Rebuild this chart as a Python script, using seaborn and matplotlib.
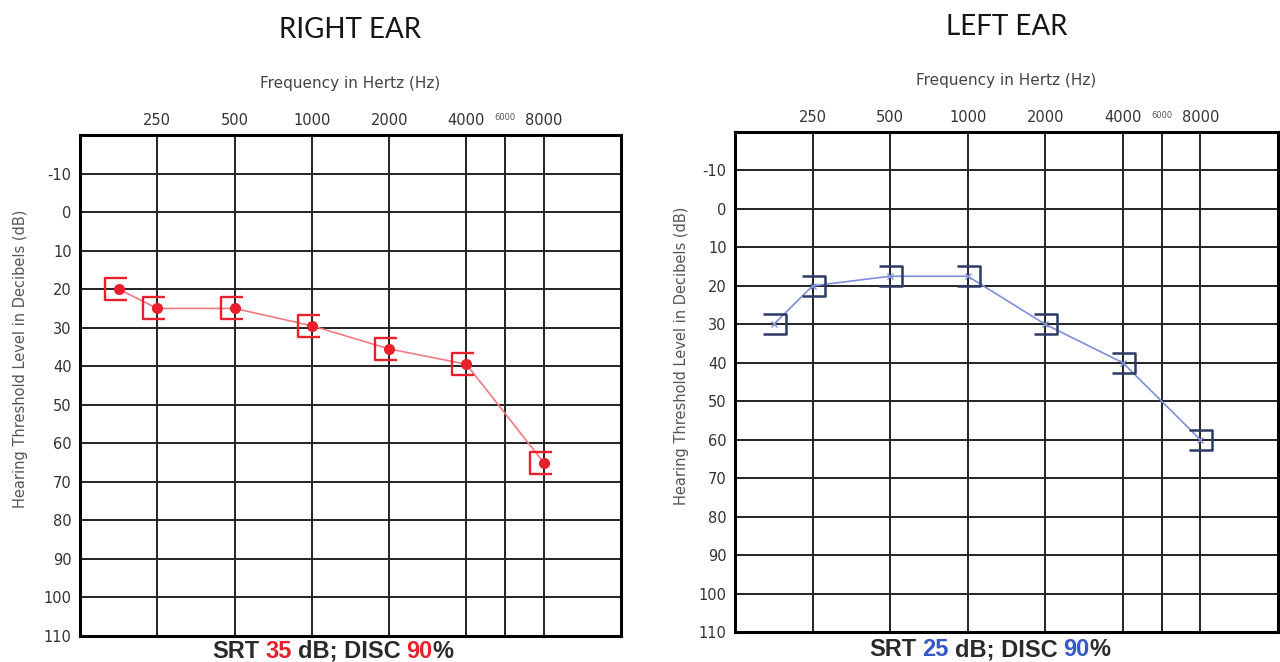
import numpy as np
import pandas as pd
import matplotlib
matplotlib.use("Agg")
import matplotlib.pyplot as plt
from matplotlib.path import Path
from matplotlib.transforms import ScaledTranslation
import seaborn as sns

sns.set_style("white")
plt.rcParams['font.family'] = ['DejaVu Sans']
plt.rcParams['axes.unicode_minus'] = False

# audiogram columns (octave index, 125 Hz = 0)
x_pos = [0.5, 1, 2, 3, 4, 5, 6]
right_db = [20, 25, 25, 29.5, 35.5, 39.5, 65]
left_db = [30, 20, 17.5, 17.5, 30, 40, 60]

freq_ticks = [1, 2, 3, 4, 5, 5.5, 6]
freq_labels = ["250", "500", "1000", "2000", "4000", "6000", "8000"]
db_ticks = list(range(-10, 111, 10))

right_srt, right_disc = "35", "90"
left_srt, left_disc = "25", "90"

RED = "#e8202c"
RED_LINE = "#f27a80"
BLUE_TXT = "#3457c8"
BLUE_LINE = "#7d8fd8"
NAVY = "#2c3b66"
GRID = "#232323"

# bracket markers: "[" for right ear, "]" for left ear
bracket_r = Path([(0.57, 0.79), (-1, 0.79), (-1, -0.79), (0.57, -0.79)],
                 [Path.MOVETO, Path.LINETO, Path.LINETO, Path.LINETO])
bracket_l = Path([(-0.92, 0.83), (1, 0.83), (1, -0.83), (-0.92, -0.83)],
                 [Path.MOVETO, Path.LINETO, Path.LINETO, Path.LINETO])

fig = plt.figure(figsize=(12.8, 6.62), dpi=100)
W, H = 1280, 662


def px_axes(l, t, r, b):
    return fig.add_axes([l / W, 1 - b / H, (r - l) / W, (b - t) / H])


def style_audiogram(ax, title, ylab_x):
    ax.set_xlim(0, 7)
    ax.set_ylim(110, -20)
    ax.set_yticks(db_ticks)
    ax.set_xticks(freq_ticks)
    ax.set_xticklabels(freq_labels)
    ax.xaxis.tick_top()
    ax.xaxis.set_label_position('top')
    ax.tick_params(axis='both', length=0, colors='#333333', labelsize=10.5)
    ax.tick_params(axis='x', pad=5)
    ax.tick_params(axis='y', pad=6)
    for t in ax.xaxis.get_major_ticks():
        if t.label2.get_text() == "6000":
            t.label2.set_fontsize(6)
            t.label2.set_color('#555555')
            t.label2.set_transform(t.label2.get_transform()
                                   + ScaledTranslation(0, 4 / 72, fig.dpi_scale_trans))
    ax.grid(True, color=GRID, lw=1.4)
    ax.set_axisbelow(True)
    for s in ax.spines.values():
        s.set_color('black')
        s.set_linewidth(2.2)
    ax.set_xlabel("Frequency in Hertz (Hz)", fontsize=11, color='#444444', labelpad=18)
    ax.set_ylabel("Hearing Threshold Level in Decibels (dB)", fontsize=10.5, color='#555555')
    ax.yaxis.set_label_coords(ylab_x, 0.553)
    ax.text(0.5, 1.21, title, transform=ax.transAxes, ha='center', va='center',
            fontsize=20, family='Lato', color='#151515')


# right ear
ax1 = px_axes(80, 135, 621, 636)
df_r = pd.DataFrame({'freq': x_pos, 'db': right_db})
sns.lineplot(data=df_r, x='freq', y='db', ax=ax1, color=RED_LINE, lw=1.2, sort=False)
ax1.plot(df_r['freq'], df_r['db'], ls='none', marker=bracket_r, ms=20,
         mfc='none', mec=RED, mew=1.7)
ax1.plot(df_r['freq'], df_r['db'], ls='none', marker='o', ms=7, color=RED)
style_audiogram(ax1, "RIGHT EAR", -0.097)

# left ear
ax2 = px_axes(735, 132, 1278, 632)
df_l = pd.DataFrame({'freq': x_pos, 'db': left_db})
sns.lineplot(data=df_l, x='freq', y='db', ax=ax2, color=BLUE_LINE, lw=1.2, sort=False)
ax2.plot(df_l['freq'], df_l['db'], ls='none', marker=bracket_l, ms=17,
         mfc='none', mec=NAVY, mew=1.8)
ax2.plot(df_l['freq'], df_l['db'], ls='none', marker='x', ms=5, mew=1, color=BLUE_LINE)
style_audiogram(ax2, "LEFT EAR", -0.084)


def colored_line(xc, yc, pieces, gaps):
    texts = [fig.text(0, 1 - yc / H, s, color=c, fontsize=17, fontweight='bold',
                      family='Liberation Sans', ha='left', va='center')
             for s, c in pieces]
    fig.canvas.draw()
    r = fig.canvas.get_renderer()
    widths = [t.get_window_extent(r).width for t in texts]
    total = sum(widths) + sum(gaps)
    x = xc - total / 2
    for t, w, g in zip(texts, widths, gaps + [0]):
        t.set_x(x / W)
        x += w + g


DARK = '#2a2a2a'
colored_line(333, 651, [("SRT", DARK), (right_srt, RED), ("dB; DISC", DARK),
                        (right_disc, RED), ("%", DARK)], [6, 6, 6, 0])
colored_line(990, 650, [("SRT", DARK), (left_srt, BLUE_TXT), ("dB; DISC", DARK),
                        (left_disc, BLUE_TXT), ("%", DARK)], [6, 6, 6, 0])

fig.savefig("out.png", dpi=100)
